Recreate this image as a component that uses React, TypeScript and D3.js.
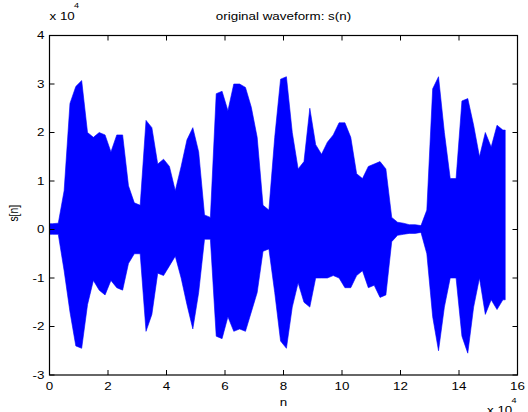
import * as d3 from "d3";

const WIDTH = 528;
const HEIGHT = 412;
const MARGIN = { top: 35.5, right: 10.5, bottom: 37, left: 49.5 };
const FONT = "'Liberation Sans', Arial, Helvetica, sans-serif";
const FONT_SIZE = 10.3;
const STRETCH = 1.3; // the reference text is drawn wider than it is tall

// waveform envelope, one max/min pair per bin of BIN samples (values x 10^4)
const BIN = 2000;
const SIGNAL_LENGTH = 155800;
const upperE4 = [
  0.12, 0.13, 0.8, 2.6, 2.95, 3.07, 2.0, 1.9, 2.0, 1.95,
  1.6, 1.95, 1.95, 0.9, 0.55, 0.5, 2.25, 2.1, 1.35, 1.45,
  1.3, 0.8, 1.3, 1.85, 2.1, 1.6, 0.3, 0.25, 2.8, 2.85,
  2.45, 3.0, 3.0, 2.93, 2.52, 1.9, 0.5, 0.4, 1.9, 3.1,
  3.15, 2.0, 1.25, 1.4, 2.5, 1.75, 1.55, 1.8, 1.95, 2.2,
  2.2, 1.9, 1.15, 1.05, 1.3, 1.35, 1.4, 1.25, 0.25, 0.15,
  0.13, 0.1, 0.1, 0.08, 0.4, 2.9, 3.15, 2.0, 1.05, 1.05,
  2.65, 2.7, 2.15, 1.5, 2.0, 1.7, 2.15, 2.05,
];
const lowerE4 = [
  -0.1, -0.1, -0.85, -1.7, -2.4, -2.45, -1.55, -1.05, -1.25, -1.35,
  -1.05, -1.2, -1.25, -0.7, -0.5, -0.5, -2.1, -1.75, -0.9, -0.95,
  -0.75, -0.55, -1.0, -1.55, -2.05, -1.3, -0.2, -0.2, -2.2, -2.25,
  -1.8, -2.1, -2.05, -2.1, -1.7, -1.3, -0.45, -0.4, -1.3, -2.3,
  -2.45, -1.6, -1.1, -1.5, -1.6, -1.0, -1.0, -1.0, -0.95, -1.0,
  -1.2, -1.2, -0.95, -0.85, -1.2, -1.15, -1.4, -1.35, -0.25, -0.12,
  -0.1, -0.08, -0.08, -0.06, -0.5, -1.8, -2.5, -1.6, -1.0, -1.0,
  -2.2, -2.55, -1.6, -1.0, -1.75, -1.45, -1.65, -1.45,
];

const xTicks = [0, 2, 4, 6, 8, 10, 12, 14, 16]; // x 10^4
const yTicks = [-3, -2, -1, 0, 1, 2, 3, 4]; // x 10^4
const TITLE = "original waveform: s(n)";
const X_LABEL = "n";
const Y_LABEL = "s[n]";

type Env = { n: number; hi: number; lo: number };

function Txt({ x, y, anchor = "start", size = FONT_SIZE, children }: any) {
  return (
    <text
      transform={`translate(${x},${y}) scale(${STRETCH},1)`}
      textAnchor={anchor}
      fontSize={size}
      fontFamily={FONT}
      fill="#000"
    >
      {children}
    </text>
  );
}

export default function App() {
  const x0 = MARGIN.left;
  const x1 = WIDTH - MARGIN.right;
  const y0 = HEIGHT - MARGIN.bottom;
  const y1 = MARGIN.top;

  const xScale = d3.scaleLinear().domain([0, 16e4]).range([x0, x1]);
  const yScale = d3.scaleLinear().domain([-3e4, 4e4]).range([y0, y1]);

  // envelope points at the bin centres, held flat to both ends of the signal
  const env: Env[] = upperE4.map((u, i) => ({
    n: (i + 0.5) * BIN,
    hi: u * 1e4,
    lo: lowerE4[i] * 1e4,
  }));
  const points: Env[] = [
    { ...env[0], n: 0 },
    ...env,
    { ...env[env.length - 1], n: SIGNAL_LENGTH },
  ];

  const area = d3
    .area<Env>()
    .x((d) => xScale(d.n))
    .y0((d) => yScale(d.lo))
    .y1((d) => yScale(d.hi))
    .curve(d3.curveLinear);

  const TICK = 5;

  return (
    <svg
      width={WIDTH}
      height={HEIGHT}
      style={{ position: "absolute", left: 0, top: 0, background: "#fff" }}
    >
      <rect width={WIDTH} height={HEIGHT} fill="#fff" />
      <path d={area(points) ?? ""} fill="#0000ff" stroke="#0000ff" strokeWidth={0.6} />

      {/* ticks on all four sides */}
      {xTicks.map((t) => (
        <g key={"x" + t}>
          <line x1={xScale(t * 1e4)} x2={xScale(t * 1e4)} y1={y0} y2={y0 - TICK} stroke="#000" />
          <line x1={xScale(t * 1e4)} x2={xScale(t * 1e4)} y1={y1} y2={y1 + TICK} stroke="#000" />
          <Txt x={xScale(t * 1e4)} y={390} anchor="middle">
            {t}
          </Txt>
        </g>
      ))}
      {yTicks.map((t) => (
        <g key={"y" + t}>
          <line x1={x0} x2={x0 + TICK} y1={yScale(t * 1e4)} y2={yScale(t * 1e4)} stroke="#000" />
          <line x1={x1} x2={x1 - TICK} y1={yScale(t * 1e4)} y2={yScale(t * 1e4)} stroke="#000" />
          <Txt x={44.5} y={yScale(t * 1e4) + 3.7} anchor="end">
            {t}
          </Txt>
        </g>
      ))}

      <rect x={x0} y={y1} width={x1 - x0} height={y0 - y1} fill="none" stroke="#000" strokeWidth={1.2} />

      {/* exponent markers */}
      <Txt x={x0} y={20}>x 10</Txt>
      <Txt x={x0 + 24.5} y={8} size={7}>4</Txt>
      <Txt x={487} y={414}>x 10</Txt>
      <Txt x={487 + 24.5} y={403} size={7}>4</Txt>

      <Txt x={(x0 + x1) / 2} y={20} anchor="middle">
        {TITLE}
      </Txt>
      <Txt x={(x0 + x1) / 2} y={406} anchor="middle">
        {X_LABEL}
      </Txt>
      <text
        transform={`translate(18,${(y0 + y1) / 2 + 8}) rotate(-90) scale(1,${STRETCH})`}
        textAnchor="middle"
        fontSize={FONT_SIZE}
        fontFamily={FONT}
        fill="#000"
      >
        {Y_LABEL}
      </text>
    </svg>
  );
}
